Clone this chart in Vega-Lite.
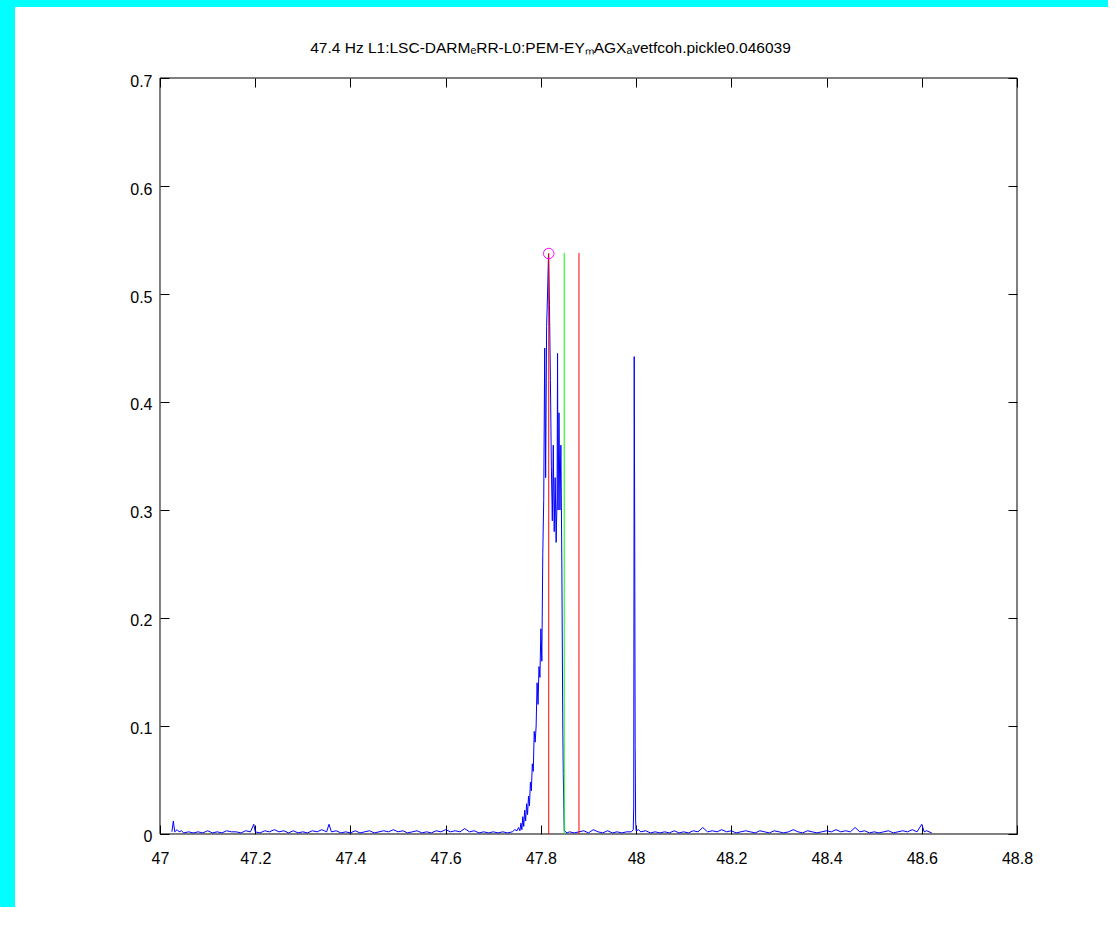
{
  "$schema": "https://vega.github.io/schema/vega-lite/v6.json",
  "width": 1093,
  "height": 900,
  "autosize": {"type": "none"},
  "padding": {"left": 15, "top": 7, "right": 0, "bottom": 0},
  "background": "#00ffff",
  "config": {
    "view": {"fill": "white", "stroke": null},
    "font": "Liberation Sans",
    "axis": {
      "labelFont": "Liberation Sans",
      "labelFontSize": 16,
      "labelColor": "black",
      "tickColor": "black",
      "tickWidth": 1,
      "grid": false,
      "domain": false,
      "format": "~g"
    }
  },
  "title": {
    "text": "47.4 Hz L1:LSC-DARMₑRR-L0:PEM-EYₘAGXₐvetfcoh.pickle0.046039",
    "font": "Liberation Sans",
    "fontSize": 15.5,
    "fontWeight": "normal",
    "color": "black",
    "anchor": "middle",
    "offset": -49,
    "dx": -11
  },
  "datasets": {
    "frame": [{"x0": 47, "x1": 48.8, "y0": 0, "y1": 0.7}],
    "markers": [
      {"f": 47.8165, "bot": 0, "top": 0.538, "kind": "lower"},
      {"f": 47.849, "bot": 0, "top": 0.538, "kind": "center"},
      {"f": 47.880, "bot": 0, "top": 0.538, "kind": "upper"}
    ],
    "peak": [{"f": 47.8165, "c": 0.5375}],
    "coh": [
      {"f": 47.025, "c": 0.002}, {"f": 47.028, "c": 0.012}, {"f": 47.031, "c": 0.002}, {"f": 47.036, "c": 0.004},
      {"f": 47.040, "c": 0.002}, {"f": 47.045, "c": 0.003}, {"f": 47.050, "c": 0.001}, {"f": 47.060, "c": 0.002},
      {"f": 47.070, "c": 0.001}, {"f": 47.080, "c": 0.002}, {"f": 47.090, "c": 0.001}, {"f": 47.100, "c": 0.003},
      {"f": 47.110, "c": 0.001}, {"f": 47.120, "c": 0.002}, {"f": 47.130, "c": 0.001}, {"f": 47.140, "c": 0.003},
      {"f": 47.150, "c": 0.002}, {"f": 47.160, "c": 0.002}, {"f": 47.170, "c": 0.001}, {"f": 47.180, "c": 0.003},
      {"f": 47.190, "c": 0.002}, {"f": 47.197, "c": 0.009}, {"f": 47.200, "c": 0.002}, {"f": 47.210, "c": 0.001},
      {"f": 47.220, "c": 0.003}, {"f": 47.230, "c": 0.002}, {"f": 47.240, "c": 0.004}, {"f": 47.250, "c": 0.002},
      {"f": 47.260, "c": 0.003}, {"f": 47.270, "c": 0.001}, {"f": 47.280, "c": 0.003}, {"f": 47.290, "c": 0.001},
      {"f": 47.300, "c": 0.002}, {"f": 47.310, "c": 0.001}, {"f": 47.320, "c": 0.003}, {"f": 47.330, "c": 0.002},
      {"f": 47.340, "c": 0.004}, {"f": 47.350, "c": 0.002}, {"f": 47.355, "c": 0.009}, {"f": 47.360, "c": 0.002},
      {"f": 47.370, "c": 0.003}, {"f": 47.380, "c": 0.001}, {"f": 47.390, "c": 0.002}, {"f": 47.400, "c": 0.001},
      {"f": 47.410, "c": 0.003}, {"f": 47.420, "c": 0.001}, {"f": 47.430, "c": 0.002}, {"f": 47.440, "c": 0.003},
      {"f": 47.450, "c": 0.001}, {"f": 47.460, "c": 0.002}, {"f": 47.470, "c": 0.003}, {"f": 47.480, "c": 0.002},
      {"f": 47.490, "c": 0.004}, {"f": 47.500, "c": 0.002}, {"f": 47.510, "c": 0.003}, {"f": 47.520, "c": 0.001},
      {"f": 47.530, "c": 0.002}, {"f": 47.540, "c": 0.003}, {"f": 47.550, "c": 0.001}, {"f": 47.560, "c": 0.002},
      {"f": 47.570, "c": 0.001}, {"f": 47.580, "c": 0.003}, {"f": 47.590, "c": 0.002}, {"f": 47.600, "c": 0.004},
      {"f": 47.610, "c": 0.002}, {"f": 47.620, "c": 0.003}, {"f": 47.630, "c": 0.002}, {"f": 47.640, "c": 0.005},
      {"f": 47.650, "c": 0.002}, {"f": 47.660, "c": 0.003}, {"f": 47.670, "c": 0.001}, {"f": 47.680, "c": 0.002},
      {"f": 47.690, "c": 0.001}, {"f": 47.700, "c": 0.002}, {"f": 47.710, "c": 0.001}, {"f": 47.720, "c": 0.002},
      {"f": 47.730, "c": 0.001}, {"f": 47.740, "c": 0.002}, {"f": 47.745, "c": 0.004}, {"f": 47.750, "c": 0.003},
      {"f": 47.753, "c": 0.006}, {"f": 47.756, "c": 0.003}, {"f": 47.758, "c": 0.010}, {"f": 47.760, "c": 0.004},
      {"f": 47.762, "c": 0.016}, {"f": 47.764, "c": 0.007}, {"f": 47.766, "c": 0.022}, {"f": 47.768, "c": 0.012},
      {"f": 47.770, "c": 0.028}, {"f": 47.772, "c": 0.018}, {"f": 47.774, "c": 0.035}, {"f": 47.776, "c": 0.026},
      {"f": 47.778, "c": 0.048}, {"f": 47.780, "c": 0.040}, {"f": 47.782, "c": 0.065}, {"f": 47.784, "c": 0.058},
      {"f": 47.786, "c": 0.095}, {"f": 47.788, "c": 0.085}, {"f": 47.790, "c": 0.100}, {"f": 47.792, "c": 0.140},
      {"f": 47.794, "c": 0.120}, {"f": 47.796, "c": 0.155}, {"f": 47.798, "c": 0.145}, {"f": 47.800, "c": 0.190},
      {"f": 47.802, "c": 0.160}, {"f": 47.804, "c": 0.260}, {"f": 47.806, "c": 0.310}, {"f": 47.808, "c": 0.450},
      {"f": 47.810, "c": 0.330}, {"f": 47.812, "c": 0.470}, {"f": 47.814, "c": 0.500}, {"f": 47.816, "c": 0.537},
      {"f": 47.818, "c": 0.490}, {"f": 47.820, "c": 0.420}, {"f": 47.822, "c": 0.340}, {"f": 47.824, "c": 0.290},
      {"f": 47.826, "c": 0.360}, {"f": 47.828, "c": 0.280}, {"f": 47.830, "c": 0.330}, {"f": 47.832, "c": 0.270},
      {"f": 47.834, "c": 0.310}, {"f": 47.835, "c": 0.445}, {"f": 47.836, "c": 0.300}, {"f": 47.838, "c": 0.390},
      {"f": 47.840, "c": 0.300}, {"f": 47.842, "c": 0.360}, {"f": 47.844, "c": 0.250}, {"f": 47.846, "c": 0.100},
      {"f": 47.847, "c": 0.056}, {"f": 47.849, "c": 0.003}, {"f": 47.855, "c": 0.001}, {"f": 47.860, "c": 0.002},
      {"f": 47.870, "c": 0.001}, {"f": 47.880, "c": 0.002}, {"f": 47.890, "c": 0.003}, {"f": 47.900, "c": 0.001},
      {"f": 47.910, "c": 0.004}, {"f": 47.920, "c": 0.002}, {"f": 47.930, "c": 0.001}, {"f": 47.940, "c": 0.003},
      {"f": 47.950, "c": 0.001}, {"f": 47.960, "c": 0.002}, {"f": 47.970, "c": 0.001}, {"f": 47.980, "c": 0.002},
      {"f": 47.990, "c": 0.002}, {"f": 47.994, "c": 0.004}, {"f": 47.995, "c": 0.025}, {"f": 47.996, "c": 0.442},
      {"f": 47.997, "c": 0.289}, {"f": 47.998, "c": 0.082}, {"f": 47.999, "c": 0.012}, {"f": 48.000, "c": 0.003},
      {"f": 48.005, "c": 0.004}, {"f": 48.010, "c": 0.002}, {"f": 48.020, "c": 0.003}, {"f": 48.030, "c": 0.001},
      {"f": 48.040, "c": 0.002}, {"f": 48.050, "c": 0.001}, {"f": 48.060, "c": 0.002}, {"f": 48.070, "c": 0.001},
      {"f": 48.080, "c": 0.003}, {"f": 48.090, "c": 0.001}, {"f": 48.100, "c": 0.002}, {"f": 48.110, "c": 0.001},
      {"f": 48.120, "c": 0.003}, {"f": 48.130, "c": 0.002}, {"f": 48.140, "c": 0.006}, {"f": 48.150, "c": 0.002},
      {"f": 48.160, "c": 0.003}, {"f": 48.170, "c": 0.002}, {"f": 48.180, "c": 0.004}, {"f": 48.190, "c": 0.002},
      {"f": 48.200, "c": 0.003}, {"f": 48.210, "c": 0.001}, {"f": 48.220, "c": 0.002}, {"f": 48.230, "c": 0.003},
      {"f": 48.240, "c": 0.002}, {"f": 48.250, "c": 0.001}, {"f": 48.260, "c": 0.003}, {"f": 48.270, "c": 0.002},
      {"f": 48.280, "c": 0.001}, {"f": 48.290, "c": 0.003}, {"f": 48.300, "c": 0.002}, {"f": 48.310, "c": 0.001},
      {"f": 48.320, "c": 0.002}, {"f": 48.330, "c": 0.004}, {"f": 48.340, "c": 0.002}, {"f": 48.350, "c": 0.001},
      {"f": 48.360, "c": 0.003}, {"f": 48.370, "c": 0.002}, {"f": 48.380, "c": 0.001}, {"f": 48.390, "c": 0.002},
      {"f": 48.400, "c": 0.003}, {"f": 48.410, "c": 0.002}, {"f": 48.420, "c": 0.004}, {"f": 48.430, "c": 0.002},
      {"f": 48.440, "c": 0.003}, {"f": 48.450, "c": 0.002}, {"f": 48.460, "c": 0.006}, {"f": 48.470, "c": 0.002},
      {"f": 48.480, "c": 0.003}, {"f": 48.490, "c": 0.001}, {"f": 48.500, "c": 0.002}, {"f": 48.510, "c": 0.001},
      {"f": 48.520, "c": 0.002}, {"f": 48.530, "c": 0.003}, {"f": 48.540, "c": 0.001}, {"f": 48.550, "c": 0.002},
      {"f": 48.560, "c": 0.003}, {"f": 48.570, "c": 0.002}, {"f": 48.580, "c": 0.004}, {"f": 48.590, "c": 0.002},
      {"f": 48.600, "c": 0.009}, {"f": 48.605, "c": 0.002}, {"f": 48.610, "c": 0.003}, {"f": 48.621, "c": 0.001}
    ]
  },
  "layer": [
    {
      "data": {"name": "frame"},
      "mark": {"type": "rect", "fillOpacity": 0, "stroke": "black", "strokeWidth": 1},
      "encoding": {
        "x": {"field": "x0", "type": "quantitative", "scale": {"domain": [46.69545, 48.99113], "nice": false, "zero": false}, "axis": null},
        "x2": {"field": "x1"},
        "y": {"field": "y0", "type": "quantitative", "scale": {"domain": [-0.067593, 0.765741], "nice": false, "zero": false}, "axis": null},
        "y2": {"field": "y1"}
      }
    },
    {
      "data": {"name": "coh"},
      "mark": {"type": "line", "color": "#0000ff", "strokeWidth": 1},
      "encoding": {
        "x": {
          "field": "f", "type": "quantitative",
          "scale": {"domain": [46.69545, 48.99113], "nice": false, "zero": false},
          "axis": {"orient": "bottom", "offset": -73, "values": [47, 47.2, 47.4, 47.6, 47.8, 48, 48.2, 48.4, 48.6, 48.8], "tickSize": -9, "labelPadding": 25, "title": null}
        },
        "y": {
          "field": "c", "type": "quantitative",
          "scale": {"domain": [-0.067593, 0.765741], "nice": false, "zero": false},
          "axis": {"orient": "left", "offset": -145, "values": [0, 0.1, 0.2, 0.3, 0.4, 0.5, 0.6, 0.7], "tickSize": -9, "labelPadding": 17, "labelOffset": 3, "title": null}
        }
      }
    },
    {
      "data": {"name": "markers"},
      "mark": {"type": "rule", "strokeWidth": 1},
      "encoding": {
        "x": {
          "field": "f", "type": "quantitative",
          "scale": {"domain": [46.69545, 48.99113], "nice": false, "zero": false},
          "axis": {"orient": "top", "offset": -71, "values": [47, 47.2, 47.4, 47.6, 47.8, 48, 48.2, 48.4, 48.6, 48.8], "tickSize": -9, "labels": false, "title": null}
        },
        "y": {
          "field": "bot", "type": "quantitative",
          "scale": {"domain": [-0.067593, 0.765741], "nice": false, "zero": false},
          "axis": {"orient": "right", "offset": -91, "values": [0, 0.1, 0.2, 0.3, 0.4, 0.5, 0.6, 0.7], "tickSize": -9, "labels": false, "title": null}
        },
        "y2": {"field": "top"},
        "color": {"field": "kind", "type": "nominal", "scale": {"domain": ["lower", "center", "upper"], "range": ["#ff0000", "#00ff00", "#ff0000"]}, "legend": null}
      }
    },
    {
      "data": {"name": "peak"},
      "mark": {"type": "point", "shape": "circle", "filled": false, "stroke": "#ff00ff", "strokeWidth": 1, "size": 110, "opacity": 1},
      "encoding": {
        "x": {"field": "f", "type": "quantitative", "scale": {"domain": [46.69545, 48.99113], "nice": false, "zero": false}, "axis": null},
        "y": {"field": "c", "type": "quantitative", "scale": {"domain": [-0.067593, 0.765741], "nice": false, "zero": false}, "axis": null}
      }
    }
  ]
}
